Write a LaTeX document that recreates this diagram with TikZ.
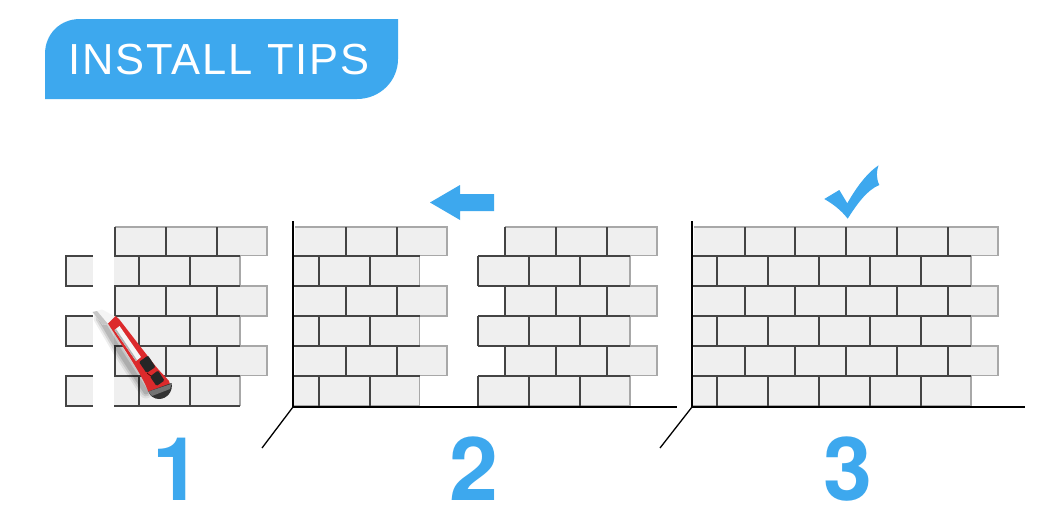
\documentclass[tikz,border=0pt]{standalone}
\usepackage{fontspec}
\setmainfont{Liberation Sans}
\newfontfamily\tipsfont[LetterSpace=4.5]{Liberation Sans}
\newfontfamily\digitfont{TeX Gyre Heros}
\usetikzlibrary{calc}
\definecolor{tipblue}{HTML}{3DA8EE}
\definecolor{tilefill}{HTML}{EFEFEF}
\definecolor{groutdark}{HTML}{444444}
\definecolor{groutlight}{HTML}{A8A8A8}
\definecolor{knifered}{HTML}{DC2A2C}
\tikzset{
  grout/.style={draw=groutdark,line width=2pt,line cap=butt},
  edge light/.style={draw=groutlight,line width=1.2pt},
  axisline/.style={draw=black,line width=2.2pt},
  floorline/.style={draw=black,line width=1.3pt},
  digit/.style={text=tipblue,font=\digitfont\bfseries\fontsize{88}{88}\selectfont,inner sep=0pt,anchor=base},
  blueshape/.style={fill=tipblue,draw=none},
}
\newcommand{\oddrow}[5]{%
  \fill[tilefill] (#3,#1) rectangle (#5,#2);
  \draw[edge light] (#3,#1) -- (#5,#1) -- (#5,#2) -- (#3,#2);
  \foreach \v in {#4}{\draw[grout] (\v,#1) -- (\v,#2);}
}
\newcommand{\evenrow}[6]{%
  \fill[tilefill] (#3,#1) rectangle (#5,#2);
  \draw[edge light] (#5,#1) -- (#5,#2);
  \draw[grout] (#3,#1) -- (#5,#1);
  \draw[#6] (#3,#2) -- (#5,#2);
  \foreach \v in {#4}{\draw[grout] (\v,#1) -- (\v,#2);}
}
\newcommand{\oddall}[3]{%
  \oddrow{227}{255.5}{#1}{#2}{#3}
  \oddrow{286}{316}{#1}{#2}{#3}
  \oddrow{346}{375.5}{#1}{#2}{#3}
}
\newcommand{\evenall}[3]{%
  \evenrow{255.5}{286}{#1}{#2}{#3}{grout}
  \evenrow{316}{346}{#1}{#2}{#3}{grout}
  \evenrow{375.5}{405.5}{#1}{#2}{#3}{edge light}
}
\begin{document}
\begin{tikzpicture}[x=1pt,y=-1pt]
\useasboundingbox (0,0) rectangle (1063,530);
\fill[white] (0,0) rectangle (1063,530);
% header
\fill[tipblue] (45,99) -- (45,54) .. controls (45,34) and (60,19) .. (80,19) -- (398,19) -- (398,59) .. controls (398,81) and (380,99) .. (357,99) -- cycle;
\node[text=white,inner sep=0pt,anchor=base west,font=\tipsfont\fontsize{43.5}{43.5}\selectfont] (title) at (68,74) {INSTALL TIPS};
% panel 1
\oddall{115}{115,166,217}{267}
\evenall{114}{139,189.5}{240}
\draw[grout] (114,405.5) -- (240,405.5);
\foreach \a/\b in {255.5/286,316/346,375.5/405.5}{
  \fill[tilefill] (66,\a) rectangle (92.5,\b);
  \draw[grout] (92.5,\a) -- (66,\a) -- (66,\b) -- (92.5,\b);
}
% panel 2
\oddall{295}{346,397}{447}
\evenall{294}{318.5,369.5}{419.5}
\oddall{505}{505,556,607}{657}
\evenall{478}{478,528.5,579.5}{630}
\draw[axisline] (293.3,221) -- (293.3,407);
\draw[axisline] (292.5,407) -- (677,407);
\coordinate (c2) at (293,407);
\coordinate (d2) at (262,448);
\draw[floorline] (c2) -- (d2);
% panel 3
\oddall{694}{744.5,795,846,897,948}{998}
\evenall{693}{717,768,818.5,869.5,920.5}{971}
\draw[axisline] (692,221) -- (692,407);
\draw[axisline] (691,407) -- (1025,407);
\coordinate (c3) at (692,407);
\coordinate (d3) at (660,448);
\draw[floorline] (c3) -- (d3);
% arrow
\fill[blueshape] (430,202.5) -- (460,185) -- (460,194) -- (494,194) -- (494,211) -- (460,211) -- (460,220) -- cycle;
% check
\fill[blueshape] (824.3,199) -- (839.3,190) -- (847.3,203.3) .. controls (856,188) and (866,174) .. (878.5,165.3) .. controls (876.5,171) and (876,178) .. (879.3,185) .. controls (867,190) and (857,204) .. (847.7,218.7) .. controls (841,210) and (833,204) .. cycle;
% knife shadow
\foreach \w/\o in {13/0.07,9/0.1,5/0.13}{
  \draw[black,opacity=\o,line width=\w pt,line cap=round] (100,318) -- (120,352) -- (146,392);
}
% blade
\fill[white!92!gray] (92.5,312) -- (102,309.5) -- (116,317) -- (108,324) -- (103,325) -- cycle;
\fill[gray!45] (92.5,312) -- (97,311) -- (108,324) -- (103,325) -- cycle;
% knife body
\fill[knifered] (108,323.5) -- (115.5,316) -- (119,319) .. controls (126,328) and (136,341) .. (153.5,363.5) .. controls (160,372) and (165,376) .. (169,381) -- (171,388) -- (150,394) -- (148,391) .. controls (145,383) and (141,375) .. (125,350) -- cycle;
% window
\fill[white!92!gray] (114.5,330) -- (119.5,326) -- (141,357) -- (136,361) -- cycle;
\fill[gray!60] (114.5,330) -- (116,329) -- (137,360) -- (136,361) -- cycle;
% buttons
\fill[black!85,rounded corners=1.2pt] (139,362) -- (148,355.5) -- (155.5,367) -- (146.5,373) -- cycle;
\fill[black!85,rounded corners=1.2pt] (150,376.5) -- (158,370.5) -- (164.5,380.5) -- (156.5,386) -- cycle;
\draw[black!70!red,line width=0.7pt] (147,373) -- (151,376);
% end cap
\fill[black!80] (148.5,391.5) -- (171.5,383) .. controls (173.5,391) and (167,399) .. (159,399) .. controls (154,399) and (150,396) .. cycle;
\fill[black!55] (148.5,391.5) -- (171,384) .. controls (171,386) and (170.5,388) .. (170,389) -- (152,396) .. controls (150.5,395) and (149.5,393) .. cycle;
% digits
\node[digit] (n1) at (177,500) {1};
\node[digit] (n2) at (474,500) {2};
\node[digit] (n3) at (848,500) {3};
\end{tikzpicture}
\end{document}
